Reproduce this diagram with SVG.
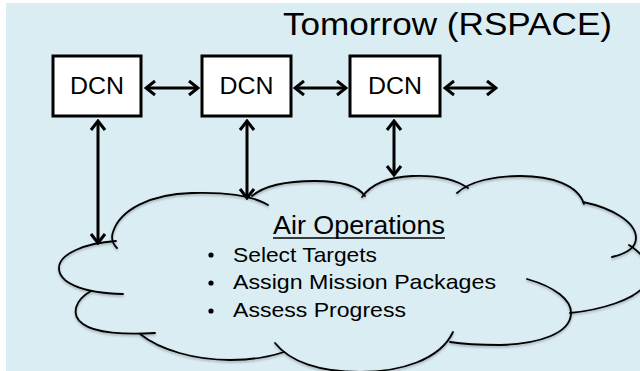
<svg xmlns="http://www.w3.org/2000/svg" width="640" height="371" viewBox="0 0 640 371">
  <style>
    .box { fill: #ffffff; stroke: #000000; stroke-width: 3; }
    .lbl { font-family: "Liberation Sans", Arial, sans-serif; fill: #000000; }
    .dcn { font-size: 24px; text-anchor: middle; }
    .link { fill: none; stroke: #000000; stroke-width: 3; marker-start: url(#chev); marker-end: url(#chev); }
    .lobe { fill: none; stroke: #000000; stroke-width: 1.8; stroke-linecap: round; }
  </style>
  <defs>
    <marker id="chev" viewBox="-12 -9 14 18" refX="0" refY="0" markerWidth="14" markerHeight="18" markerUnits="userSpaceOnUse" orient="auto-start-reverse">
      <path d="M-9,-7 L0,0 L-9,7" fill="none" stroke="#000000" stroke-width="3" stroke-linejoin="miter"/>
    </marker>
    <filter id="soft" x="-5%" y="-5%" width="110%" height="115%">
      <feDropShadow dx="0" dy="1.5" stdDeviation="1" flood-color="#000000" flood-opacity="0.3"/>
    </filter>
  </defs>

  <!-- page -->
  <rect x="0" y="0" width="640" height="371" fill="#ffffff"/>
  <rect x="6" y="3" width="634" height="368" fill="#DAEDF3"/>

  <text class="lbl" x="283" y="35" font-size="31" textLength="329" lengthAdjust="spacingAndGlyphs">Tomorrow (RSPACE)</text>

  <!-- cloud: Air Operations -->
  <g id="air-operations">
    <g filter="url(#soft)">
      <path class="lobe" d="M117,248 Q110,241 113,232 C120,210 150,194 192,193 C225,192 253,196 268,205"/>
      <path class="lobe" d="M252,196 C265,185 290,181 315,181 C340,181 358,186 365,196"/>
      <path class="lobe" d="M362,197 C372,183 390,177 412,176 C435,175 455,179 468,188"/>
      <path class="lobe" d="M457,193 C470,181 495,176 520,176 C552,176 578,185 584,204"/>
      <path class="lobe" d="M583,202 C612,208 636,222 636,238 C636,248 625,254 612,257"/>
      <path class="lobe" d="M629,245 C645,255 655,270 645,285 C635,300 600,310 570,313"/>
      <path class="lobe" d="M527,279 C555,287 572,300 571,314 C570,333 540,344 500,345 C480,345 462,344 450,342"/>
      <path class="lobe" d="M453,332 C440,360 400,372 360,372 C320,372 290,362 275,343"/>
      <path class="lobe" d="M140,334 C160,350 195,360 230,360 C255,360 272,356 284,352"/>
      <path class="lobe" d="M91,291 C75,300 70,315 83,324 C95,333 125,335 155,333"/>
      <path class="lobe" d="M116,241 C85,243 59,254 59,268 C59,282 80,293 123,294"/>
    </g>
    <text class="lbl" x="273" y="234" font-size="26" textLength="172" lengthAdjust="spacingAndGlyphs">Air Operations</text>
    <line x1="273" y1="238" x2="445" y2="238" stroke="#000000" stroke-width="1.5"/>
    <circle cx="211" cy="255" r="2.6" fill="#000000"/>
    <circle cx="211" cy="283" r="2.6" fill="#000000"/>
    <circle cx="211" cy="311" r="2.6" fill="#000000"/>
    <text class="lbl" x="233" y="262" font-size="21" textLength="144" lengthAdjust="spacingAndGlyphs">Select Targets</text>
    <text class="lbl" x="233" y="289" font-size="21" textLength="263" lengthAdjust="spacingAndGlyphs">Assign Mission Packages</text>
    <text class="lbl" x="233" y="317" font-size="21" textLength="173" lengthAdjust="spacingAndGlyphs">Assess Progress</text>
  </g>

  <!-- DCN nodes -->
  <g id="dcn-1">
    <rect class="box" x="53" y="56" width="88" height="60"/>
    <text class="lbl dcn" x="97" y="94" textLength="54" lengthAdjust="spacingAndGlyphs">DCN</text>
  </g>
  <g id="dcn-2">
    <rect class="box" x="202" y="56" width="89" height="60"/>
    <text class="lbl dcn" x="246.5" y="94" textLength="54" lengthAdjust="spacingAndGlyphs">DCN</text>
  </g>
  <g id="dcn-3">
    <rect class="box" x="350" y="56" width="90" height="60"/>
    <text class="lbl dcn" x="395" y="94" textLength="54" lengthAdjust="spacingAndGlyphs">DCN</text>
  </g>

  <!-- two-way links -->
  <g id="connectors">
    <line class="link" x1="146" y1="88" x2="198" y2="88"/>
    <line class="link" x1="295" y1="88" x2="346" y2="88"/>
    <line class="link" x1="445" y1="88" x2="496" y2="88"/>
    <line class="link" x1="98" y1="121" x2="98" y2="243"/>
    <line class="link" x1="247" y1="121" x2="247" y2="198"/>
    <line class="link" x1="394" y1="121" x2="394" y2="175"/>
  </g>
</svg>
